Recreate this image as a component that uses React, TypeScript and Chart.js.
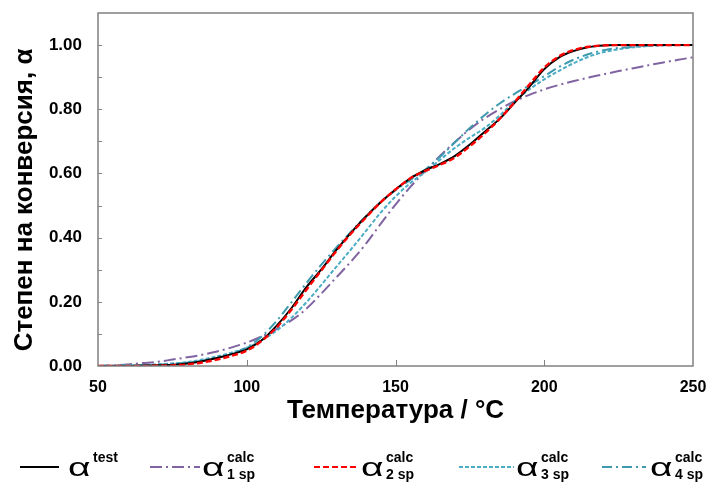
import React, { useEffect, useRef } from "react";
import { Chart, registerables } from "chart.js";

Chart.register(...registerables);

// ---- data ----
const temperatures = [50, 55, 60, 65, 70, 75, 80, 85, 90, 95, 100, 105, 110, 115, 120, 125, 130, 135, 140, 145, 150, 155, 160, 165, 170, 175, 180, 185, 190, 195, 200, 205, 210, 215, 220, 225, 230, 235, 240, 245, 250];
const alphaTest = [0, 0, 0, 0.001, 0.002, 0.004, 0.008, 0.015, 0.025, 0.037, 0.052, 0.08, 0.125, 0.18, 0.245, 0.3, 0.36, 0.415, 0.465, 0.51, 0.55, 0.585, 0.61, 0.63, 0.655, 0.69, 0.73, 0.77, 0.82, 0.87, 0.925, 0.962, 0.982, 0.994, 0.999, 1, 1, 1, 1, 1, 1];
const alpha1sp = [0, 0.002, 0.005, 0.009, 0.013, 0.02, 0.027, 0.035, 0.045, 0.058, 0.073, 0.092, 0.115, 0.142, 0.178, 0.225, 0.275, 0.325, 0.38, 0.443, 0.503, 0.558, 0.608, 0.655, 0.698, 0.738, 0.772, 0.8, 0.825, 0.845, 0.862, 0.876, 0.888, 0.899, 0.909, 0.919, 0.928, 0.937, 0.946, 0.954, 0.962];
const alpha2sp = [0, 0, 0, 0, 0.001, 0.002, 0.005, 0.011, 0.02, 0.032, 0.048, 0.078, 0.12, 0.175, 0.237, 0.297, 0.357, 0.412, 0.462, 0.51, 0.55, 0.585, 0.608, 0.627, 0.65, 0.685, 0.725, 0.77, 0.822, 0.877, 0.93, 0.965, 0.985, 0.995, 0.999, 1, 1, 1, 1, 1, 1];
const alpha3sp = [0, 0.001, 0.002, 0.003, 0.005, 0.008, 0.012, 0.02, 0.03, 0.042, 0.057, 0.08, 0.11, 0.15, 0.198, 0.252, 0.308, 0.363, 0.42, 0.478, 0.528, 0.57, 0.605, 0.643, 0.68, 0.712, 0.742, 0.78, 0.825, 0.862, 0.893, 0.92, 0.944, 0.964, 0.978, 0.987, 0.993, 0.997, 0.999, 1, 1];
const alpha4sp = [0, 0.001, 0.002, 0.003, 0.004, 0.007, 0.01, 0.016, 0.025, 0.038, 0.058, 0.092, 0.14, 0.198, 0.258, 0.315, 0.368, 0.418, 0.466, 0.51, 0.548, 0.58, 0.612, 0.652, 0.697, 0.742, 0.782, 0.818, 0.848, 0.875, 0.903, 0.932, 0.955, 0.972, 0.984, 0.991, 0.995, 0.998, 1, 1, 1];

const xTickValues = [50, 100, 150, 200, 250];
const yTickValues = [0, 0.2, 0.4, 0.6, 0.8, 1.0];
const yMinorTickValues = [0.1, 0.2, 0.3, 0.4, 0.5, 0.6, 0.7, 0.8, 0.9, 1.0];
const xInnerTickValues = [100, 150, 200];

const xTitle = "Температура / °C";
const yTitle = "Степен на конверсия, α";

const FONT = "'Liberation Sans', Arial, sans-serif";

const COLORS = {
  test: "#000000",
  sp1: "#8064A2",
  sp2: "#FF0000",
  sp3: "#4BACC6",
  sp4: "#3E9AAE",
};

const DASH = {
  test: [] as number[],
  sp1: [12, 4, 2, 4],
  sp2: [6, 3],
  sp3: [4, 2],
  sp4: [10, 4, 2, 4],
};

const toPoints = (ys: number[]) => temperatures.map((t, i) => ({ x: t, y: ys[i] }));

const boxPlugin = {
  id: "boxPlugin",
  afterDatasetsDraw(chart: any) {
    const { ctx, chartArea, scales } = chart;
    ctx.save();
    ctx.strokeStyle = "#808080";
    ctx.lineWidth = 1.5;
    ctx.strokeRect(chartArea.left, chartArea.top, chartArea.right - chartArea.left, chartArea.bottom - chartArea.top);
    ctx.lineWidth = 1;
    ctx.beginPath();
    yMinorTickValues.forEach((v) => {
      const y = Math.round(scales.y.getPixelForValue(v)) + 0.5;
      ctx.moveTo(chartArea.left, y);
      ctx.lineTo(chartArea.left + 4, y);
    });
    xInnerTickValues.forEach((v) => {
      const x = Math.round(scales.x.getPixelForValue(v)) + 0.5;
      ctx.moveTo(x, chartArea.bottom);
      ctx.lineTo(x, chartArea.bottom - 6);
    });
    ctx.stroke();
    // y axis title
    ctx.translate(25, 200);
    ctx.rotate(-Math.PI / 2);
    ctx.fillStyle = "#000";
    ctx.font = `bold 26px ${FONT}`;
    ctx.textAlign = "center";
    ctx.textBaseline = "middle";
    ctx.fillText(yTitle, 0, 0);
    ctx.restore();
  },
};

function LegendItem(props: {
  color: string;
  dash: number[];
  x1: number;
  x2: number;
  ax: number;
  sup: string;
  sub?: string;
}) {
  const { color, dash, x1, x2, ax, sup, sub } = props;
  const w = x2 - x1;
  return (
    <>
      <svg style={{ position: "absolute", left: x1, top: 462, width: w, height: 10 }}>
        <line x1={0} y1={5} x2={w} y2={5} stroke={color} strokeWidth={2.2} strokeDasharray={dash.length ? dash.join(",") : undefined} />
      </svg>
      <span
        style={{
          position: "absolute",
          left: ax,
          top: 454,
          fontFamily: FONT,
          fontSize: 26,
          lineHeight: "26px",
          color: "#000",
          transform: "scaleX(1.5)",
          transformOrigin: "left center",
        }}
      >
        α
      </span>
      <span style={{ position: "absolute", left: ax + 25, top: 450, fontFamily: FONT, fontWeight: "bold", fontSize: 14, lineHeight: "14px", color: "#000" }}>{sup}</span>
      {sub ? (
        <span style={{ position: "absolute", left: ax + 25, top: 467, fontFamily: FONT, fontWeight: "bold", fontSize: 14, lineHeight: "14px", color: "#000" }}>{sub}</span>
      ) : null}
    </>
  );
}

export default function App() {
  const canvasRef = useRef<HTMLCanvasElement | null>(null);

  useEffect(() => {
    const canvas = canvasRef.current;
    if (!canvas) return;
    const mk = (label: string, ys: number[], color: string, dash: number[], width: number) => ({
      label,
      data: toPoints(ys),
      borderColor: color,
      backgroundColor: color,
      borderDash: dash,
      borderWidth: width,
      pointRadius: 0,
      fill: false,
      cubicInterpolationMode: "monotone" as const,
    });
    const zeroPad = (s: any) => {
      s.paddingTop = 0;
      s.paddingBottom = 0;
      s.paddingLeft = 0;
      s.paddingRight = 0;
    };
    const chart = new Chart(canvas, {
      type: "line",
      data: {
        datasets: [
          mk("α2 sp calc", alpha2sp, COLORS.sp2, DASH.sp2, 2.4),
          mk("α test", alphaTest, COLORS.test, DASH.test, 2),
          mk("α4 sp calc", alpha4sp, COLORS.sp4, DASH.sp4, 2),
          mk("α3 sp calc", alpha3sp, COLORS.sp3, DASH.sp3, 2),
          mk("α1 sp calc", alpha1sp, COLORS.sp1, DASH.sp1, 2),
        ],
      },
      options: {
        responsive: false,
        animation: false,
        devicePixelRatio: 1,
        layout: { padding: { left: 0, right: 17, top: 13, bottom: 52 } },
        plugins: {
          legend: { display: false },
          tooltip: { enabled: false },
        },
        scales: {
          x: {
            type: "linear",
            min: 50,
            max: 250,
            grid: { display: false, drawTicks: false },
            border: { display: false },
            afterBuildTicks: (s: any) => {
              s.ticks = xTickValues.map((v) => ({ value: v }));
            },
            afterFit: (s: any) => {
              s.height = 64;
              zeroPad(s);
            },
            ticks: {
              padding: 12,
              color: "#000",
              maxRotation: 0,
              font: { family: FONT, size: 16, weight: "bold" },
              callback: (v: any) => String(v),
            },
            title: {
              display: true,
              text: xTitle,
              color: "#000",
              font: { family: FONT, size: 26, weight: "bold" },
              padding: { top: 0, bottom: 4 },
            },
          },
          y: {
            type: "linear",
            min: 0,
            max: 1.1,
            grid: { display: false, drawTicks: false },
            border: { display: false },
            afterBuildTicks: (s: any) => {
              s.ticks = yTickValues.map((v) => ({ value: v }));
            },
            afterFit: (s: any) => {
              s.width = 98;
              zeroPad(s);
            },
            ticks: {
              padding: 16,
              color: "#000",
              font: { family: FONT, size: 17, weight: "bold" },
              callback: (v: any) => Number(v).toFixed(2),
            },
            title: { display: false },
          },
        },
      },
      plugins: [boxPlugin],
    });
    return () => chart.destroy();
  }, []);

  return (
    <div style={{ position: "fixed", left: 0, top: 0, width: 710, height: 482, background: "#fff", overflow: "hidden" }}>
      <canvas ref={canvasRef} width={710} height={482} style={{ position: "absolute", left: 0, top: 0 }} />
      <LegendItem color={COLORS.test} dash={DASH.test} x1={20} x2={59} ax={68} sup="test" />
      <LegendItem color={COLORS.sp1} dash={DASH.sp1} x1={150} x2={200} ax={202} sup="calc" sub="1 sp" />
      <LegendItem color={COLORS.sp2} dash={DASH.sp2} x1={314} x2={359} ax={361} sup="calc" sub="2 sp" />
      <LegendItem color={COLORS.sp3} dash={DASH.sp3} x1={459} x2={514} ax={516} sup="calc" sub="3 sp" />
      <LegendItem color={COLORS.sp4} dash={DASH.sp4} x1={602} x2={646} ax={650} sup="calc" sub="4 sp" />
    </div>
  );
}
